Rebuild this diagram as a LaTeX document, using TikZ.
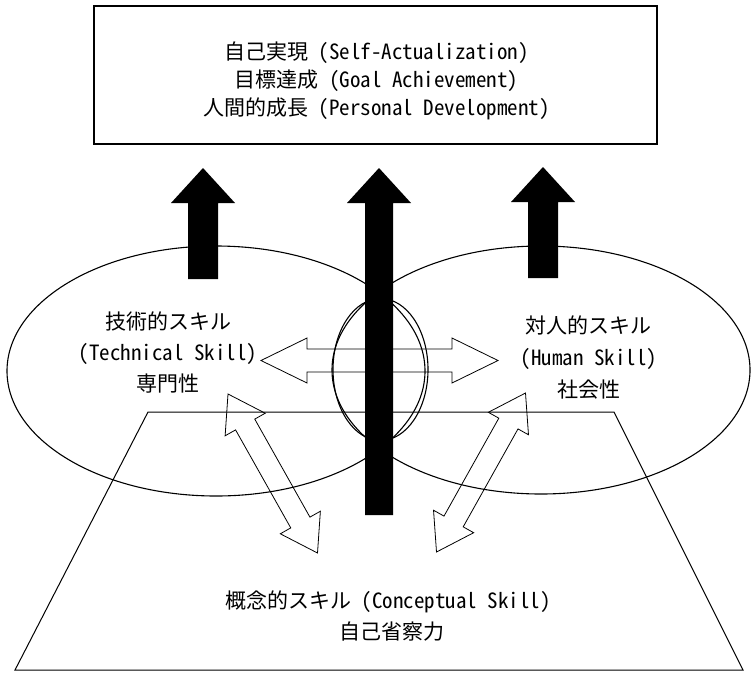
\documentclass[tikz,border=0pt]{standalone}
\usepackage{fontspec}
\setmainfont{Noto Sans CJK JP}[RawFeature={+hwid}]
\usetikzlibrary{calc,shapes.geometric}
\tikzset{
  lbl/.style={font=\fontsize{21pt}{25pt}\selectfont, inner sep=0pt, text height=18.5pt, text depth=2.5pt},
  oval/.style={draw, ellipse, line width=1.1pt, inner sep=0pt},
  framebox/.style={draw, line width=1.2pt, inner sep=0pt},
  hollow/.style={draw, line width=0.8pt, line join=miter},
  plate/.style={draw, line width=1pt, line join=miter},
}
\newcommand{\hollowdouble}[5]{%
  \coordinate (#1#2a) at ($(#1)!#3!(#2)$);
  \coordinate (#1#2b) at ($(#2)!#3!(#1)$);
  \draw[hollow] (#1) -- ($(#1#2a)!#4!90:(#2)$) -- ($(#1#2a)!#5!90:(#2)$)
    -- ($(#1#2b)!#5!-90:(#1)$) -- ($(#1#2b)!#4!-90:(#1)$) -- (#2)
    -- ($(#1#2b)!#4!90:(#1)$) -- ($(#1#2b)!#5!90:(#1)$)
    -- ($(#1#2a)!#5!-90:(#2)$) -- ($(#1#2a)!#4!-90:(#2)$) -- cycle;
}
\newcommand{\solidup}[6]{% cx, tip y, head base y, head half, shaft half, bottom y
  \fill[black] (#1,#2) -- (#1+#4,#3) -- (#1+#5,#3) -- (#1+#5,#6) -- (#1-#5,#6)
    -- (#1-#5,#3) -- (#1-#4,#3) -- cycle;
}
\begin{document}
\begin{tikzpicture}[x=1pt,y=-1pt]
\useasboundingbox (0,0) rectangle (751,672);

% top box
\node[framebox, minimum width=563pt, minimum height=138pt] (goal) at (375.5,75) {};

% ellipses
\node[oval, minimum width=418pt, minimum height=250pt] (tech) at (216,371) {};
\node[oval, minimum width=418pt, minimum height=248pt] (human) at (541,370) {};
\node[oval, minimum width=95pt, minimum height=142pt] (core) at (380.5,369.5) {};

% trapezoid
\coordinate (tl) at (148,412);
\coordinate (tr) at (614,412);
\coordinate (br) at (743,670);
\coordinate (bl) at (15,670);
\draw[plate] (tl) -- (tr) -- (br) -- (bl) -- cycle;

% hollow double arrows
\coordinate (hl) at (261,360.5);
\coordinate (hr) at (498,360.5);
\hollowdouble{hl}{hr}{46pt}{22.5pt}{11.5pt}
\coordinate (dlu) at (228,394);
\coordinate (dld) at (317.5,553);
\hollowdouble{dlu}{dld}{35pt}{23pt}{11pt}
\coordinate (dru) at (525.5,393);
\coordinate (drd) at (436.5,552);
\hollowdouble{dru}{drd}{35pt}{23pt}{11pt}

% solid black arrows
\solidup{203}{168}{203}{32}{15}{279}
\solidup{379}{168}{203}{32}{14}{515}
\solidup{543}{167}{202}{32}{15}{278}

% texts
\node[lbl] (g1) at (376.5,51) {自己実現 (Self-Actualization)};
\node[lbl] (g2) at (376.5,79) {目標達成 (Goal Achievement)};
\node[lbl] (g3) at (376.5,107) {人間的成長 (Personal Development)};

\node[lbl] (t1) at (168,321) {技術的スキル};
\node[lbl] (t2) at (168,352) {(Technical Skill)};
\node[lbl] (t3) at (168,383) {専門性};

\node[lbl] (h1) at (588,325) {対人的スキル};
\node[lbl] (h2) at (589,357) {(Human Skill)};
\node[lbl] (h3) at (589,389) {社会性};

\node[lbl] (c1) at (388,600) {概念的スキル (Conceptual Skill)};
\node[lbl] (c2) at (392,631) {自己省察力};
\end{tikzpicture}
\end{document}
